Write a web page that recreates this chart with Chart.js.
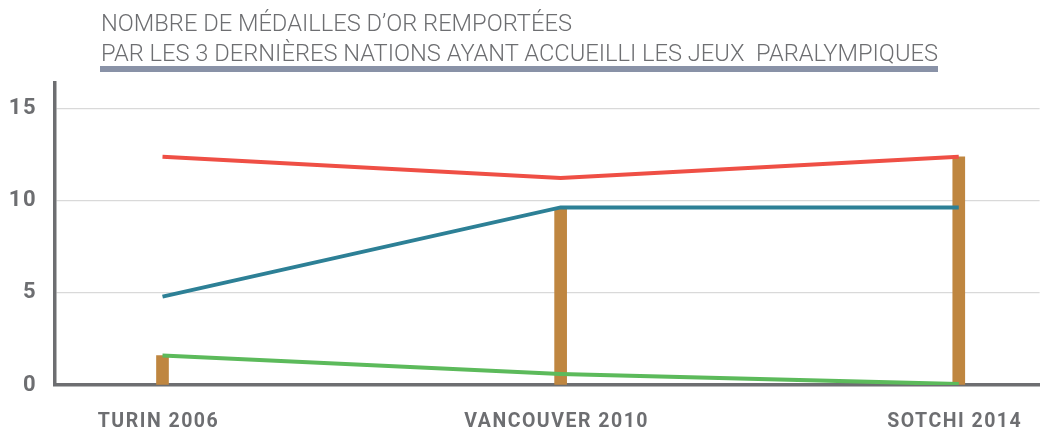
<!DOCTYPE html>
<html>
<head>
<meta charset="utf-8">
<script src="https://cdn.jsdelivr.net/npm/chart.js@4.4.1/dist/chart.umd.min.js"></script>
<style>
  html, body { margin: 0; padding: 0; background: #ffffff; }
  #wrap { position: relative; width: 1043px; height: 432px; overflow: hidden; }
  #chart { position: absolute; left: 0; top: 0; }
  .title {
    position: absolute; left: 101px; top: 9px;
    font-family: Roboto, "Open Sans", sans-serif; font-weight: 300;
    font-size: 23.5px; line-height: 29.5px; color: #6d6e71; white-space: nowrap;
  }
  .title span { display: inline-block; transform-origin: 0 0; }
  .rule { position: absolute; left: 100px; top: 66px; width: 838px; height: 5.5px; background: #8992a7; }
</style>
</head>
<body>
<div id="wrap">
  <canvas id="chart" width="1043" height="432"></canvas>
  <div class="title">
    <span id="t1">NOMBRE DE MÉDAILLES D’OR REMPORTÉES</span><br>
    <span id="t2">PAR LES 3 DERNIÈRES NATIONS AYANT ACCUEILLI LES JEUX&nbsp; PARALYMPIQUES</span>
  </div>
  <div class="rule"></div>
</div>
<script>
// Host cities of the last three Winter Paralympics
const categories = ['TURIN 2006', 'VANCOUVER 2010', 'SOTCHI 2014'];

// Gold medals per nation (red, blue, green lines)
const redSeries   = [12.4, 11.25, 12.4];
const blueSeries  = [4.8, 9.65, 9.65];
const greenSeries = [1.6, 0.6, 0.05];

// Host nation's gold medals at each edition
const hostSeries  = [1.6, 9.65, 12.4];

const yTickValues = [0, 5, 10, 15];

const GREY = '#6d6e71';

// Condense the title lines to their set width
(function fitTitle() {
  const t1 = document.getElementById('t1');
  const t2 = document.getElementById('t2');
  const k = 837 / t2.getBoundingClientRect().width;
  t1.style.transform = 'scaleX(' + k + ')';
  t2.style.transform = 'scaleX(' + k + ')';
})();

const toPoints = arr => arr.map((v, i) => ({ x: i, y: v }));

const lineDs = (data, color) => ({
  type: 'line',
  data: toPoints(data),
  borderColor: color,
  backgroundColor: color,
  borderWidth: 4,
  pointRadius: 0,
  pointHoverRadius: 0,
  tension: 0,
  fill: false,
  order: 0
});

const spacing = {
  id: 'spacing',
  beforeDraw(chart) { chart.ctx.letterSpacing = '1.5px'; }
};

new Chart(document.getElementById('chart'), {
  type: 'bar',
  data: {
    datasets: [
      lineDs(redSeries, '#ef4f45'),
      lineDs(blueSeries, '#2d8096'),
      lineDs(greenSeries, '#5cba5b'),
      {
        type: 'bar',
        data: toPoints(hostSeries),
        backgroundColor: '#bf8640',
        barThickness: 12,
        order: 1
      }
    ]
  },
  options: {
    responsive: false,
    animation: false,
    events: [],
    layout: { padding: { top: 83, left: 0, right: 0, bottom: 0 } },
    plugins: { legend: { display: false }, tooltip: { enabled: false } },
    scales: {
      x: {
        type: 'linear',
        offset: false,
        min: -0.27,
        max: 2.203,
        afterBuildTicks: s => { s.ticks = [0, 1, 2].map(v => ({ value: v })); },
        afterFit: s => { s.height = 47; },
        grid: { display: false, drawTicks: false },
        border: { display: true, color: GREY, width: 3.5 },
        ticks: {
          autoSkip: false,
          maxRotation: 0,
          padding: 25,
          labelOffset: -4,
          color: GREY,
          font: { family: 'Roboto', weight: 'bold', size: 19.5 },
          callback: v => categories[v] ?? ''
        }
      },
      y: {
        min: 0,
        max: 16.41,
        afterBuildTicks: s => { s.ticks = yTickValues.map(v => ({ value: v })); },
        afterFit: s => { s.width = 55; },
        grid: {
          drawTicks: false,
          lineWidth: 1.2,
          color: c => (c.tick && c.tick.value === 0) ? 'rgba(0,0,0,0)' : '#d9d9d9'
        },
        border: { display: true, color: GREY, width: 3.5 },
        ticks: {
          padding: 18,
          color: GREY,
          font: { family: 'Roboto', weight: 'bold', size: 22 }
        }
      }
    }
  },
  plugins: [spacing]
});
</script>
</body>
</html>
